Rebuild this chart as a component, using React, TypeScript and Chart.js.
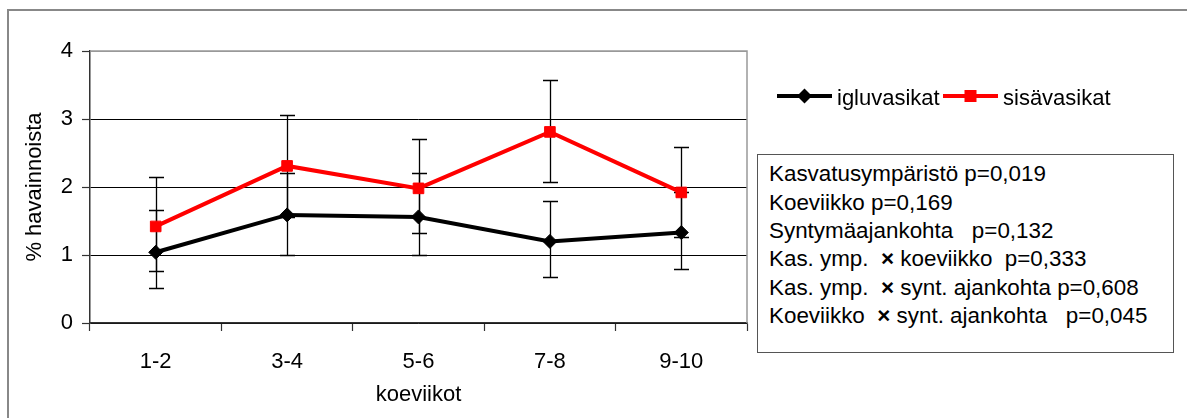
import React, { useEffect, useRef } from "react";
import { Chart, registerables } from "chart.js";

Chart.register(...registerables);

// Study weeks on the x axis
const weeks = ["1-2", "3-4", "5-6", "7-8", "9-10"];

// Y axis range / step
const yMin = 0;
const yMax = 4;
const yStep = 1;

// Igloo calves: mean and error bar ends
const iglu = [1.04, 1.59, 1.56, 1.2, 1.33];
const igluLow = [0.52, 1.0, 1.0, 0.67, 0.79];
const igluHigh = [1.66, 2.21, 2.21, 1.8, 1.93];

// Indoor calves: mean and error bar ends
const sisa = [1.42, 2.31, 1.98, 2.81, 1.92];
const sisaLow = [0.77, 1.56, 1.32, 2.08, 1.26];
const sisaHigh = [2.15, 3.06, 2.71, 3.58, 2.59];

const seriesNames = ["igluvasikat", "sisävasikat"];
const seriesColors = ["#000000", "#ff0000"];
const seriesMarkers = ["rectRot", "rect"];

const xTitle = "koeviikot";
const yTitle = "% havainnoista";

// Statistical test results shown in the box
const statLines = [
  "Kasvatusympäristö p=0,019",
  "Koeviikko p=0,169",
  "Syntymäajankohta   p=0,132",
  "Kas. ymp.  × koeviikko  p=0,333",
  "Kas. ymp.  × synt. ajankohta p=0,608",
  "Koeviikko  × synt. ajankohta   p=0,045",
];

const FONT = '"Liberation Sans", Arial, sans-serif';
const W = 1187;
const H = 418;

const errorSets = [
  [igluLow, igluHigh],
  [sisaLow, sisaHigh],
];

// Gray frame on the top and right of the plot area
const plotFrame = {
  id: "plotFrame",
  beforeDatasetsDraw(chart: any) {
    const { ctx, chartArea } = chart;
    const { left, top, right, bottom } = chartArea;
    ctx.save();
    ctx.strokeStyle = "#999999";
    ctx.lineWidth = 1.5;
    ctx.beginPath();
    ctx.moveTo(left, top);
    ctx.lineTo(right, top);
    ctx.lineTo(right, bottom);
    ctx.stroke();
    ctx.restore();
  },
};

// Vertical error bars with caps, drawn under the series
const errorBars = {
  id: "errorBars",
  beforeDatasetsDraw(chart: any) {
    const { ctx, scales } = chart;
    const xs = scales.x;
    const ys = scales.y;
    const cap = 7.5;
    ctx.save();
    ctx.strokeStyle = "#000000";
    ctx.lineWidth = 1.3;
    errorSets.forEach(([lo, hi]) => {
      lo.forEach((l: number, i: number) => {
        const px = Math.round(xs.getPixelForValue(i)) + 0.5;
        const yl = Math.round(ys.getPixelForValue(l)) + 0.5;
        const yh = Math.round(ys.getPixelForValue(hi[i])) + 0.5;
        ctx.beginPath();
        ctx.moveTo(px, yl);
        ctx.lineTo(px, yh);
        ctx.moveTo(px - cap, yl);
        ctx.lineTo(px + cap, yl);
        ctx.moveTo(px - cap, yh);
        ctx.lineTo(px + cap, yh);
        ctx.stroke();
      });
    });
    ctx.restore();
  },
};

function Legend() {
  const itemX = [777, 943];
  const lineLen = 55;
  const cy = 96;
  return (
    <svg
      width={W}
      height={H}
      style={{ position: "absolute", left: 0, top: 0, pointerEvents: "none" }}
    >
      {seriesNames.map((name, i) => {
        const x0 = itemX[i];
        const mx = x0 + lineLen / 2;
        const color = seriesColors[i];
        return (
          <g key={name}>
            <line x1={x0} y1={cy} x2={x0 + lineLen} y2={cy} stroke={color} strokeWidth={4} />
            {seriesMarkers[i] === "rectRot" ? (
              <polygon
                points={`${mx},${cy - 7.5} ${mx + 7.5},${cy} ${mx},${cy + 7.5} ${mx - 7.5},${cy}`}
                fill={color}
              />
            ) : (
              <rect x={mx - 6} y={cy - 6} width={12} height={12} fill={color} />
            )}
            <text
              x={x0 + lineLen + 5}
              y={105}
              fontFamily={FONT}
              fontSize={22}
              fill="#000"
            >
              {name}
            </text>
          </g>
        );
      })}
    </svg>
  );
}

// Render the interaction sign a little heavier than the rest of the line
function StatLine({ text }: { text: string }) {
  const parts = text.split("×");
  return (
    <div>
      {parts.map((p, i) => (
        <React.Fragment key={i}>
          {i > 0 && <span style={{ fontWeight: "bold" }}>×</span>}
          {p}
        </React.Fragment>
      ))}
    </div>
  );
}

function StatsBox() {
  return (
    <div
      style={{
        position: "absolute",
        left: 757,
        top: 154,
        width: 417,
        height: 199,
        boxSizing: "border-box",
        border: "1px solid #555",
        paddingTop: 5.4,
        paddingLeft: 11,
        fontFamily: FONT,
        fontSize: 22.4,
        lineHeight: "28.3px",
        color: "#000",
        whiteSpace: "pre",
        background: "#fff",
      }}
    >
      {statLines.map((t) => (
        <StatLine key={t} text={t} />
      ))}
    </div>
  );
}

export default function App() {
  const canvasRef = useRef<HTMLCanvasElement | null>(null);

  useEffect(() => {
    const canvas = canvasRef.current;
    if (!canvas) return;
    const tickFont = { family: FONT, size: 22 };
    const chart = new Chart(canvas, {
      type: "line",
      data: {
        labels: weeks,
        datasets: [
          {
            label: seriesNames[0],
            data: iglu,
            borderColor: seriesColors[0],
            backgroundColor: seriesColors[0],
            borderWidth: 4,
            pointStyle: seriesMarkers[0] as any,
            pointRadius: 7,
            pointBorderWidth: 1,
            pointBackgroundColor: seriesColors[0],
            pointBorderColor: seriesColors[0],
            tension: 0,
            fill: false,
          },
          {
            label: seriesNames[1],
            data: sisa,
            borderColor: seriesColors[1],
            backgroundColor: seriesColors[1],
            borderWidth: 4,
            pointStyle: seriesMarkers[1] as any,
            pointRadius: 7.5,
            pointBorderWidth: 1,
            pointBackgroundColor: seriesColors[1],
            pointBorderColor: seriesColors[1],
            tension: 0,
            fill: false,
          },
        ],
      },
      options: {
        animation: false,
        responsive: false,
        devicePixelRatio: 1,
        layout: { padding: { left: 0, top: 51, right: W - 747, bottom: 0 } },
        plugins: {
          legend: { display: false },
          tooltip: { enabled: false },
        },
        scales: {
          x: {
            type: "category",
            offset: true,
            grid: {
              offset: true,
              drawOnChartArea: false,
              drawTicks: true,
              tickLength: 8,
              tickColor: "#333",
              tickWidth: 1.2,
            },
            border: { display: true, color: "#333", width: 1.5 },
            ticks: {
              padding: 18,
              font: tickFont,
              color: "#000",
              maxRotation: 0,
              autoSkip: false,
            },
            title: {
              display: true,
              text: xTitle,
              font: tickFont,
              color: "#000",
              padding: { top: 0, bottom: 10 },
            },
            afterFit: (s: any) => {
              s.height = H - 323;
            },
          },
          y: {
            min: yMin,
            max: yMax,
            ticks: {
              stepSize: yStep,
              padding: 9,
              font: tickFont,
              color: "#000",
            },
            grid: {
              color: (c: any) => (c.tick && c.tick.value === yMax ? "#999999" : "#000000"),
              lineWidth: 1,
              tickLength: 8,
              tickColor: "#333",
              tickWidth: 1.2,
            },
            border: { display: true, color: "#333", width: 1.5 },
            title: {
              display: true,
              text: yTitle,
              font: tickFont,
              color: "#000",
              padding: { top: 22, bottom: 0 },
            },
            afterFit: (s: any) => {
              s.width = 90;
            },
          },
        },
      },
      plugins: [plotFrame, errorBars],
    });
    return () => chart.destroy();
  }, []);

  return (
    <div
      style={{
        position: "fixed",
        left: 0,
        top: 0,
        width: W,
        height: H,
        overflow: "hidden",
        background: "#fff",
      }}
    >
      <div
        style={{
          position: "absolute",
          left: 7,
          top: 9,
          width: W + 20,
          height: H + 20,
          borderLeft: "2px solid #888",
          borderTop: "2px solid #888",
        }}
      />
      <canvas
        ref={canvasRef}
        width={W}
        height={H}
        style={{ position: "absolute", left: 0, top: 0, width: W, height: H }}
      />
      <Legend />
      <StatsBox />
    </div>
  );
}
